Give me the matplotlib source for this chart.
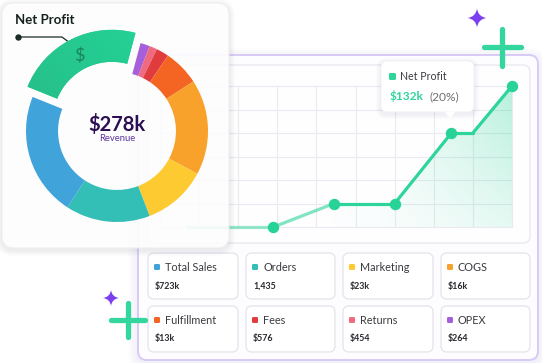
import numpy as np
import matplotlib.pyplot as plt
from matplotlib.patches import FancyBboxPatch, Polygon, PathPatch
from matplotlib.collections import LineCollection
from matplotlib.path import Path

plt.rcParams['font.family'] = ['Lato', 'DejaVu Sans']

W, H = 542, 363

# donut: share of the ring (degrees), clockwise
segments = ['Net Profit', 'OPEX', 'Returns', 'Fees', 'Fulfillment',
            'COGS', 'Marketing', 'Orders', 'Total Sales']
shares = [83, 6, 5, 8, 23, 61, 41, 54, 79]
seg_colors = ['#2BCB8E', '#A55FDA', '#EF6A80', '#E03B3D', '#F46524',
              '#F8A12B', '#FDCB31', '#33BEB6', '#40A3DA']

# net profit line ($k)
periods = [-1.3, 0.9, 2.45, 4.0, 5.45, 6.0, 7.0]
profit = [0, 0, 33, 33, 132, 132, 198]
marker_idx = [1, 2, 3, 4, 6]

# kpi tiles
kpi_labels = ['Total Sales', 'Orders', 'Marketing', 'COGS',
              'Fulfillment', 'Fees', 'Returns', 'OPEX']
kpi_values = ['$723k', '1,435', '$23k', '$16k', '$13k', '$576', '$454', '$264']
kpi_colors = ['#40A3DA', '#33BEB6', '#FDCB31', '#F8A12B',
              '#F46524', '#E03B3D', '#EF6A80', '#A55FDA']

GREEN = '#2ED59A'
PURPLE = '#7B3FF0'


def fbox(x0, y0, x1, y1):
    # pixel box (top-left origin) -> figure fraction rect
    return [x0 / W, 1 - y1 / H, (x1 - x0) / W, (y1 - y0) / H]


def pix_axes(z):
    a = fig.add_axes([0, 0, 1, 1])
    a.set_xlim(0, W)
    a.set_ylim(H, 0)
    a.axis('off')
    a.patch.set_alpha(0)
    a.set_zorder(z)
    return a


def rbox(ax, x0, y0, x1, y1, r, fc='white', ec='none', lw=1, alpha=1, z=1):
    p = FancyBboxPatch((x0, y0), x1 - x0, y1 - y0,
                       boxstyle=f'round,pad=0,rounding_size={r}',
                       fc=fc, ec=ec, lw=lw, alpha=alpha, zorder=z)
    ax.add_patch(p)
    return p


def shadow(ax, x0, y0, x1, y1, r, color, spread=8, n=7, alpha=0.025, dy=3, z=0.5):
    for i in range(n):
        d = spread * (i + 1) / n
        rbox(ax, x0 - d, y0 - d + dy, x1 + d, y1 + d + dy, r + d,
             fc=color, alpha=alpha, z=z)


def sparkle(ax, cx, cy, r, color):
    tips = [(cx, cy - r), (cx + r, cy), (cx, cy + r), (cx - r, cy), (cx, cy - r)]
    k = 0.12 * r
    ctrls = [(cx + k, cy - k), (cx + k, cy + k), (cx - k, cy + k), (cx - k, cy - k)]
    verts = [tips[0]]
    for c, t in zip(ctrls, tips[1:]):
        verts += [c, t]
    codes = [Path.MOVETO] + [Path.CURVE3] * 8
    ax.add_patch(PathPatch(Path(verts, codes), fc=color, ec='none', zorder=5))


def plus(ax, cx, cy, half, color):
    kw = dict(color=color, lw=3.8, solid_capstyle='round', zorder=5)
    ax.plot([cx - half, cx + half], [cy, cy], **kw)
    ax.plot([cx, cx], [cy - half, cy + half], **kw)


fig = plt.figure(figsize=(W / 100, H / 100), dpi=100)
fig.patch.set_facecolor('white')

# ---------------- background panels ----------------
bg = pix_axes(0)
shadow(bg, 138, 55, 538, 360, 9, '#B9A3EE', spread=10, alpha=0.02)
rbox(bg, 138, 55, 538, 360, 9, fc='#FDFCFF', ec='#D9CAF6', lw=1.4)
shadow(bg, 148, 65, 530, 243, 7, '#9A9AB8', spread=5, n=5, alpha=0.02, dy=1)
rbox(bg, 148, 65, 530, 243, 7, fc='#FEFEFF', ec='#E7E7EE', lw=0.9, z=2)

for i, (lab, val, col) in enumerate(zip(kpi_labels, kpi_values, kpi_colors)):
    row, c = divmod(i, 4)
    x0 = [148, 246, 343, 441][c]
    x1 = [238, 335, 433, 530][c]
    y0 = [253, 306][row]
    rbox(bg, x0, y0, x1, y0 + 46, 6, fc='white', ec='#E3E3EA', lw=0.9, z=2)
    rbox(bg, x0 + 6, y0 + 11, x0 + 12, y0 + 17, 1.3, fc=col, z=3)
    bg.text(x0 + 17, y0 + 14.5, lab, fontsize=7.8, color='#3A3A40',
            va='center', ha='left', zorder=4)
    bg.text(x0 + 7, y0 + 33, val, fontsize=6.4, color='#2A2A30',
            fontweight='bold', va='center', ha='left', zorder=4)

# ---------------- grid (under donut card) ----------------
gx = fig.add_axes(fbox(160, 86, 512, 227))
gx.set_zorder(1)
gx.patch.set_alpha(0)
gx.set_xlim(-2, 7)
gx.set_ylim(0, 198)
gx.set_xticks(range(-2, 8))
gx.set_yticks(range(0, 199, 33))
gx.grid(color='#EBEAF0', lw=0.8)
gx.tick_params(length=0, labelbottom=False, labelleft=False)
for s in gx.spines.values():
    s.set_visible(False)
for ln in gx.get_xgridlines() + gx.get_ygridlines():
    ln.set_clip_on(False)

# ---------------- profit line (passes under the donut card) ----------------
lx = fig.add_axes(fbox(160, 86, 512, 227))
lx.set_zorder(1.5)
lx.patch.set_alpha(0)
lx.set_xlim(-2, 7)
lx.set_ylim(0, 198)
lx.axis('off')

poly = lx.fill_between(periods, profit, 0, color='none')
clip = PathPatch(poly.get_paths()[0], transform=lx.transData, fc='none', ec='none')
lx.add_patch(clip)
fx = np.linspace(-2, 7, 300)
fy = np.linspace(0, 198, 150)
FX, FY = np.meshgrid(fx, fy)
tx = np.clip((FX - 2.0) / 5.0, 0, 1)
ty = FY / 198
rgba = np.zeros(FX.shape + (4,))
rgba[..., :3] = np.array([0x2E, 0xD5, 0x9A]) / 255
rgba[..., 3] = 0.34 * tx ** 1.4 * (0.35 + 0.65 * ty)
fill = lx.imshow(rgba, extent=(-2, 7, 0, 198), origin='lower', aspect='auto', zorder=1)
fill.set_clip_path(clip)
lx.set_xlim(-2, 7)
lx.set_ylim(0, 198)

pts = np.column_stack([periods, profit])
segs = [pts[i:i + 2] for i in range(len(pts) - 1)]
seg_alpha = [0.5, 0.6, 1, 1, 1, 1]
base = np.array([0x2E, 0xD5, 0x9A]) / 255
lc = LineCollection(segs, colors=[(*base, a) for a in seg_alpha], lw=2.3,
                    capstyle='round', joinstyle='round', zorder=3)
lc.set_clip_on(False)
lx.add_collection(lc)
lx.plot([periods[i] for i in marker_idx], [profit[i] for i in marker_idx], 'o',
        ms=7.2, color='#27D396', clip_on=False, zorder=4)

# ---------------- donut card ----------------
cd = pix_axes(2)
shadow(cd, 2, 3, 229, 248, 12, '#777788', spread=6, n=6, alpha=0.018, dy=2)
rbox(cd, 2, 3, 229, 248, 12, fc='white', ec='#EEEEF0', lw=0.8, alpha=0.9, z=1)
cd.text(15, 19.5, 'Net Profit', fontsize=9.5, fontweight='bold',
        color='#15231F', va='center', ha='left', zorder=3)
cd.plot([18, 62, 70], [37, 37, 43], color='#1B2B27', lw=0.9, zorder=3)
cd.plot([18], [37], 'o', ms=3.6, color='#1B2B27', zorder=3)

# ---------------- donut ----------------
R = 91
dx = fig.add_axes(fbox(117 - 105, 131 - 105, 117 + 105, 131 + 105))
dx.set_zorder(3)
dx.patch.set_alpha(0)
explode = [0.125] + [0] * (len(shares) - 1)
wedges, _ = dx.pie(shares, colors=seg_colors, startangle=158, counterclock=False,
                   explode=explode, radius=1,
                   wedgeprops=dict(width=0.352, edgecolor='none'))
# green gradient on the profit wedge
gg = np.linspace(0, 1, 120)
gxx, gyy = np.meshgrid(gg, gg)
t = np.clip((gxx + gyy) / 2, 0, 1)[..., None]
c0 = np.array([0x2A, 0xAE, 0x80]) / 255
c1 = np.array([0x22, 0xDC, 0x9C]) / 255
img = dx.imshow(c0 + (c1 - c0) * t, extent=(-1.2, 1.2, -1.2, 1.2),
                origin='lower', aspect='auto', zorder=2)
img.set_clip_path(wedges[0])
dx.set_xlim(-105 / R, 105 / R)
dx.set_ylim(-105 / R, 105 / R)
dx.set_aspect('equal')
dx.axis('off')
dx.text(-0.41, 0.83, '$', fontsize=13, color='#1B855A', ha='center', va='center', zorder=4)
dx.text(0, 0.07, '$278k', fontsize=14.5, fontweight='bold', color='#2B0F52',
        ha='center', va='center')
dx.text(0, -0.085, 'Revenue', fontsize=6.8, color='#5E35A0', ha='center', va='center')

# ---------------- tooltip & decorations ----------------
top = pix_axes(5)
shadow(top, 381, 61, 474, 112, 6, '#8888AA', spread=5, n=5, alpha=0.025, dy=2)
rbox(top, 381, 61, 474, 112, 6, fc='white', ec='#EFEFF3', lw=0.6, z=2)
top.add_patch(Polygon([(444.5, 111.5), (455.5, 111.5), (450, 118.5)],
                      closed=True, fc='white', ec='none', zorder=3))
rbox(top, 389, 73, 396, 80, 1.5, fc=GREEN, z=3)
top.text(400, 76.5, 'Net Profit', fontsize=7.6, color='#3B3B40', va='center', zorder=4)
top.text(390, 96.5, '$132k', fontsize=8.6, fontweight='bold', color=GREEN,
         va='center', zorder=4)
top.text(429, 96.5, '(20%)', fontsize=8.6, color='#6E6E74', va='center', zorder=4)

plus(top, 502, 47, 18.5, '#33D69C')
plus(top, 128, 320, 17, '#33D69C')
sparkle(top, 477, 18, 9.5, PURPLE)
sparkle(top, 111, 298, 8, PURPLE)

fig.savefig('out.png', dpi=100, facecolor='white')
